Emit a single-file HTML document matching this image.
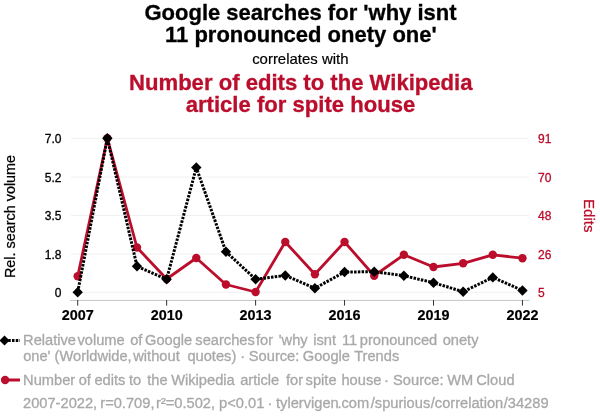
<!DOCTYPE html>
<html><head><meta charset="utf-8"><title>chart</title>
<style>
html,body{margin:0;padding:0;background:#fff;}
body{width:600px;height:420px;overflow:hidden;}
svg{display:block;will-change:transform;}
text{font-family:"Liberation Sans",Arial,Helvetica,sans-serif;}
</style></head><body>
<svg width="600" height="420" viewBox="0 0 600 420">
<rect width="600" height="420" fill="#fff"/>
<text x="300.5" y="19.9" text-anchor="middle" font-size="22" font-weight="bold" fill="#000" stroke="#000" stroke-width="0.3">Google searches for 'why isnt</text>
<text x="300.9" y="41.8" text-anchor="middle" font-size="22" font-weight="bold" fill="#000" stroke="#000" stroke-width="0.3">11 pronounced onety one'</text>
<text x="300.3" y="63.6" text-anchor="middle" font-size="14.95" fill="#000" stroke="#000" stroke-width="0.2">correlates with</text>
<text x="300.8" y="89.6" text-anchor="middle" font-size="22.1" font-weight="bold" fill="#bb0d2c" stroke="#bb0d2c" stroke-width="0.3">Number of edits to the Wikipedia</text>
<text x="300.5" y="111.9" text-anchor="middle" font-size="22.1" font-weight="bold" fill="#bb0d2c" stroke="#bb0d2c" stroke-width="0.3">article for spite house</text>
<line x1="71" x2="529" y1="138.3" y2="138.3" stroke="#f0f0f0" stroke-width="1"/>
<line x1="71" x2="529" y1="177" y2="177" stroke="#f0f0f0" stroke-width="1"/>
<line x1="71" x2="529" y1="215.5" y2="215.5" stroke="#f0f0f0" stroke-width="1"/>
<line x1="71" x2="529" y1="254" y2="254" stroke="#f0f0f0" stroke-width="1"/>
<line x1="71" x2="529" y1="292.3" y2="292.3" stroke="#f0f0f0" stroke-width="1"/>
<line x1="70" x2="529.5" y1="300.4" y2="300.4" stroke="#c4c4c4" stroke-width="1"/>
<line x1="77.7" x2="77.7" y1="300" y2="305.6" stroke="#333" stroke-width="1"/>
<text x="77.7" y="320.4" text-anchor="middle" font-size="14.4" font-weight="bold" fill="#000" stroke="#000" stroke-width="0.2">2007</text>
<line x1="166.65" x2="166.65" y1="300" y2="305.6" stroke="#333" stroke-width="1"/>
<text x="166.65" y="320.4" text-anchor="middle" font-size="14.4" font-weight="bold" fill="#000" stroke="#000" stroke-width="0.2">2010</text>
<line x1="255.6" x2="255.6" y1="300" y2="305.6" stroke="#333" stroke-width="1"/>
<text x="255.6" y="320.4" text-anchor="middle" font-size="14.4" font-weight="bold" fill="#000" stroke="#000" stroke-width="0.2">2013</text>
<line x1="344.55" x2="344.55" y1="300" y2="305.6" stroke="#333" stroke-width="1"/>
<text x="344.55" y="320.4" text-anchor="middle" font-size="14.4" font-weight="bold" fill="#000" stroke="#000" stroke-width="0.2">2016</text>
<line x1="433.5" x2="433.5" y1="300" y2="305.6" stroke="#333" stroke-width="1"/>
<text x="433.5" y="320.4" text-anchor="middle" font-size="14.4" font-weight="bold" fill="#000" stroke="#000" stroke-width="0.2">2019</text>
<line x1="522.45" x2="522.45" y1="300" y2="305.6" stroke="#333" stroke-width="1"/>
<text x="522.45" y="320.4" text-anchor="middle" font-size="14.4" font-weight="bold" fill="#000" stroke="#000" stroke-width="0.2">2022</text>
<text x="61.5" y="143.20000000000002" text-anchor="end" font-size="12" fill="#000" stroke="#000" stroke-width="0.3">7.0</text>
<text x="61.5" y="181.9" text-anchor="end" font-size="12" fill="#000" stroke="#000" stroke-width="0.3">5.2</text>
<text x="61.5" y="220.4" text-anchor="end" font-size="12" fill="#000" stroke="#000" stroke-width="0.3">3.5</text>
<text x="61.5" y="258.9" text-anchor="end" font-size="12" fill="#000" stroke="#000" stroke-width="0.3">1.8</text>
<text x="61.5" y="297.2" text-anchor="end" font-size="12" fill="#000" stroke="#000" stroke-width="0.3">0</text>
<text x="538" y="143.20000000000002" font-size="12" fill="#bb0d2c" stroke="#bb0d2c" stroke-width="0.3">91</text>
<text x="538" y="181.9" font-size="12" fill="#bb0d2c" stroke="#bb0d2c" stroke-width="0.3">70</text>
<text x="538" y="220.4" font-size="12" fill="#bb0d2c" stroke="#bb0d2c" stroke-width="0.3">48</text>
<text x="538" y="258.9" font-size="12" fill="#bb0d2c" stroke="#bb0d2c" stroke-width="0.3">26</text>
<text x="538" y="297.2" font-size="12" fill="#bb0d2c" stroke="#bb0d2c" stroke-width="0.3">5</text>
<text transform="translate(15,216.5) rotate(-90)" text-anchor="middle" font-size="14.4" fill="#000" stroke="#000" stroke-width="0.25">Rel. search volume</text>
<text transform="translate(584,215.7) rotate(90)" text-anchor="middle" font-size="15" fill="#bb0d2c" stroke="#bb0d2c" stroke-width="0.25">Edits</text>
<polyline points="77.7,276.25 107.35,138.3 137.0,247.5 166.65,279 196.3,258 225.95,284.5 255.6,292 285.25,242.0 314.9,274.25 344.55,242.0 374.2,275.75 403.85,254.8 433.5,267 463.15,263.3 492.8,254.8 522.45,258.2" fill="none" stroke="#bb0d2c" stroke-width="2.8" stroke-linejoin="round"/>
<circle cx="77.7" cy="276.25" r="4.2" fill="#bb0d2c"/>
<circle cx="107.35" cy="138.3" r="4.2" fill="#bb0d2c"/>
<circle cx="137.0" cy="247.5" r="4.2" fill="#bb0d2c"/>
<circle cx="166.65" cy="279" r="4.2" fill="#bb0d2c"/>
<circle cx="196.3" cy="258" r="4.2" fill="#bb0d2c"/>
<circle cx="225.95" cy="284.5" r="4.2" fill="#bb0d2c"/>
<circle cx="255.6" cy="292" r="4.2" fill="#bb0d2c"/>
<circle cx="285.25" cy="242.0" r="4.2" fill="#bb0d2c"/>
<circle cx="314.9" cy="274.25" r="4.2" fill="#bb0d2c"/>
<circle cx="344.55" cy="242.0" r="4.2" fill="#bb0d2c"/>
<circle cx="374.2" cy="275.75" r="4.2" fill="#bb0d2c"/>
<circle cx="403.85" cy="254.8" r="4.2" fill="#bb0d2c"/>
<circle cx="433.5" cy="267" r="4.2" fill="#bb0d2c"/>
<circle cx="463.15" cy="263.3" r="4.2" fill="#bb0d2c"/>
<circle cx="492.8" cy="254.8" r="4.2" fill="#bb0d2c"/>
<circle cx="522.45" cy="258.2" r="4.2" fill="#bb0d2c"/>
<polyline points="77.7,292.2 107.35,138.3 137.0,266.25 166.65,279.2 196.3,167.5 225.95,251.75 255.6,279.25 285.25,275.5 314.9,288.25 344.55,272 374.2,271.75 403.85,275.7 433.5,282.7 463.15,291.7 492.8,277.4 522.45,290.5" fill="none" stroke="#000" stroke-width="3" stroke-dasharray="2.5,1.25" stroke-linejoin="round"/>
<path d="M77.7,287.0L82.9,292.2L77.7,297.4L72.5,292.2Z" fill="#000"/>
<path d="M107.35,133.10000000000002L112.55,138.3L107.35,143.5L102.14999999999999,138.3Z" fill="#000"/>
<path d="M137.0,261.05L142.2,266.25L137.0,271.45L131.8,266.25Z" fill="#000"/>
<path d="M166.65,274.0L171.85,279.2L166.65,284.4L161.45000000000002,279.2Z" fill="#000"/>
<path d="M196.3,162.3L201.5,167.5L196.3,172.7L191.10000000000002,167.5Z" fill="#000"/>
<path d="M225.95,246.55L231.14999999999998,251.75L225.95,256.95L220.75,251.75Z" fill="#000"/>
<path d="M255.6,274.05L260.8,279.25L255.6,284.45L250.4,279.25Z" fill="#000"/>
<path d="M285.25,270.3L290.45,275.5L285.25,280.7L280.05,275.5Z" fill="#000"/>
<path d="M314.9,283.05L320.09999999999997,288.25L314.9,293.45L309.7,288.25Z" fill="#000"/>
<path d="M344.55,266.8L349.75,272L344.55,277.2L339.35,272Z" fill="#000"/>
<path d="M374.2,266.55L379.4,271.75L374.2,276.95L369.0,271.75Z" fill="#000"/>
<path d="M403.85,270.5L409.05,275.7L403.85,280.9L398.65000000000003,275.7Z" fill="#000"/>
<path d="M433.5,277.5L438.7,282.7L433.5,287.9L428.3,282.7Z" fill="#000"/>
<path d="M463.15,286.5L468.34999999999997,291.7L463.15,296.9L457.95,291.7Z" fill="#000"/>
<path d="M492.8,272.2L498.0,277.4L492.8,282.59999999999997L487.6,277.4Z" fill="#000"/>
<path d="M522.45,285.3L527.6500000000001,290.5L522.45,295.7L517.25,290.5Z" fill="#000"/>
<polyline points="4.5,340.5 20,340.5" stroke="#000" stroke-width="3" stroke-dasharray="2.5,1.25" fill="none"/>
<path d="M4.5,335.5L9.5,340.5L4.5,345.5L-0.5,340.5Z" fill="#000"/>
<text y="344.5" font-size="14.67" fill="#a8a8a8" stroke="#a8a8a8" stroke-width="0.3"><tspan x="23.05">Relative </tspan><tspan x="77.45">volume </tspan><tspan x="130.13">of </tspan><tspan x="145.01">Google </tspan><tspan x="195.34">searches </tspan><tspan x="256.04">for </tspan><tspan x="278.76">'why </tspan><tspan x="313.27">isnt </tspan><tspan x="341.88">11 </tspan><tspan x="359.80">pronounced </tspan><tspan x="442.63">onety</tspan></text>
<text y="360.5" font-size="14.67" fill="#a8a8a8" stroke="#a8a8a8" stroke-width="0.3"><tspan x="23.13">one' </tspan><tspan x="54.59">(Worldwide, </tspan><tspan x="133.27">without </tspan><tspan x="187.38">quotes) </tspan><tspan x="240.26">· </tspan><tspan x="248.83">Source: </tspan><tspan x="302.76">Google </tspan><tspan x="354.17">Trends</tspan></text>
<line x1="5" x2="20" y1="380" y2="380" stroke="#bb0d2c" stroke-width="3"/>
<circle cx="5.1" cy="380" r="4.2" fill="#bb0d2c"/>
<text y="384.5" font-size="14.67" fill="#a8a8a8" stroke="#a8a8a8" stroke-width="0.3"><tspan x="23.05">Number </tspan><tspan x="78.63">of </tspan><tspan x="94.38">edits </tspan><tspan x="129.03">to </tspan><tspan x="147.28">the </tspan><tspan x="171.19">Wikipedia </tspan><tspan x="240.13">article </tspan><tspan x="286.04">for </tspan><tspan x="305.59">spite </tspan><tspan x="341.48">house </tspan><tspan x="384.01">· </tspan><tspan x="393.08">Source: </tspan><tspan x="447.19">WM </tspan><tspan x="476.26">Cloud</tspan></text>
<text y="407.5" font-size="14.67" fill="#a8a8a8" stroke="#a8a8a8" stroke-width="0.3"><tspan x="23.01">2007-2022, </tspan><tspan x="100.28">r=0.709, </tspan><tspan x="156.03">r²=0.502, </tspan><tspan x="219.05">p&lt;0.01 </tspan><tspan x="267.51">· </tspan><tspan x="276.03">tylervigen</tspan><tspan x="337.41">.com</tspan><tspan x="370.75">/spurious</tspan><tspan x="430.75">/correlation</tspan><tspan x="503.75">/34289</tspan></text>
</svg></body></html>
